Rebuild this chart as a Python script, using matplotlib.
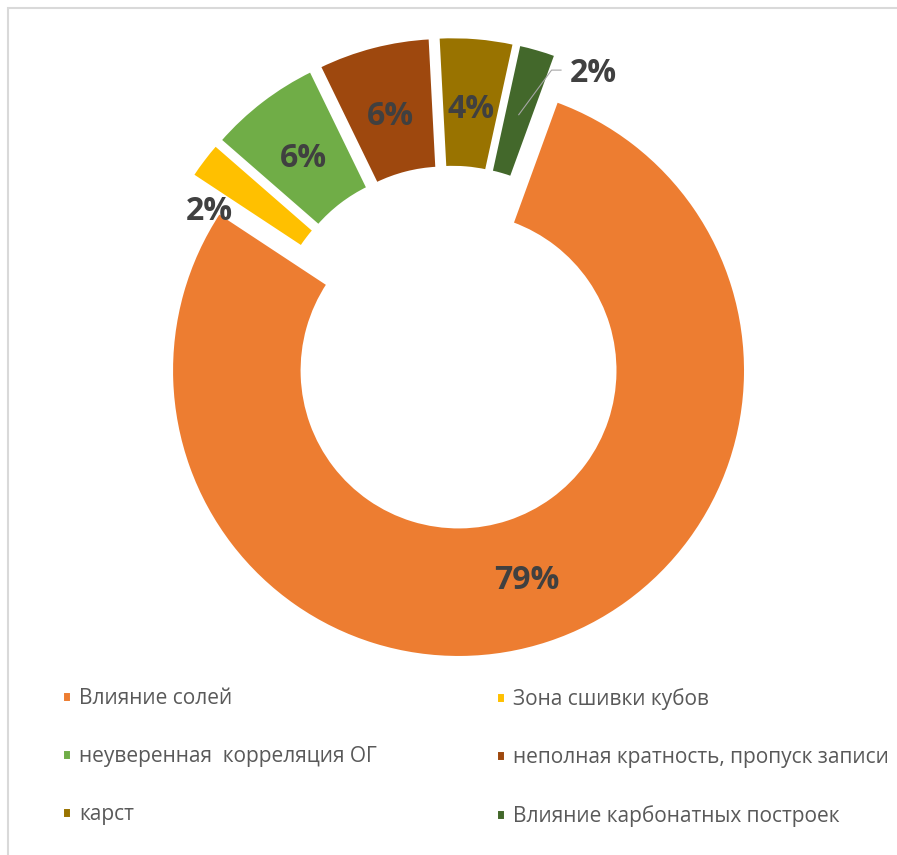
import matplotlib

matplotlib.use("Agg")
import matplotlib.pyplot as plt
import numpy as np
from matplotlib.patches import Rectangle

categories = [
    "Влияние солей",
    "Зона сшивки кубов",
    "неуверенная  корреляция ОГ",
    "неполная кратность, пропуск записи",
    "карст",
    "Влияние карбонатных построек",
]
counts = [37, 1, 3, 3, 2, 1]
colors = ["#ED7D31", "#FFC000", "#70AD47", "#9E480E", "#997300", "#43682B"]

W, H = 897, 855
R = 287.0              # outer radius in pixels
CX, CY = 451.0, 347.7  # pie centre in pixels (y from top)
EXPLODE = 24.0         # slice offset in pixels
LABEL_FONT = ["Open Sans", "DejaVu Sans"]
LEGEND_FONT = ["Open Sans", "DejaVu Sans"]
TEXT_DARK = "#404040"


def polar(center, theta_deg, r):
    t = np.deg2rad(theta_deg)
    return center[0] + r * np.cos(t), center[1] + r * np.sin(t)


fig = plt.figure(figsize=(W / 100, H / 100), dpi=100)
ax = fig.add_axes([0, 0, 1, 1])

# y axis runs downwards, so increasing angle draws clockwise on screen
wedges, _, pcts = ax.pie(
    counts,
    colors=colors,
    startangle=-70,
    counterclock=True,
    radius=1.0,
    explode=[EXPLODE / R] * len(counts),
    autopct=lambda p: f"{p:.0f}%",
    pctdistance=0.76,
    wedgeprops=dict(width=0.455, edgecolor="white", linewidth=2.2),
    textprops=dict(fontsize=23, fontweight="bold", color=TEXT_DARK, family=LABEL_FONT),
)
ax.set_xlim(-CX / R, (W - CX) / R)
ax.set_ylim((H - CY) / R, -CY / R)
ax.set_aspect("equal")
ax.axis("off")

# nudge labels down a little so the digits sit visually centred
for t in pcts:
    x, y = t.get_position()
    t.set_position((x, y + 3 / R))

# thin slices get their labels outside the ring
w = wedges[1]
mid = 0.5 * (w.theta1 + w.theta2)
pcts[1].set_position(polar(w.center, mid - 8.6, 0.885))

w = wedges[5]
mid = 0.5 * (w.theta1 + w.theta2)
lx, ly = polar(w.center, mid + 12.4, 0.99)
pcts[5].set_position((lx - 24 / R, ly - 2 / R))
pcts[5].set_ha("left")
sx, sy = polar(w.center, mid, 0.76)
ax.plot([sx, lx - 42 / R, lx - 32 / R], [sy, ly - 5 / R, ly - 5 / R],
        color="#a6a6a6", lw=0.8, solid_capstyle="butt")

# legend in two columns
leg_kw = dict(
    loc="upper left",
    frameon=False,
    prop=dict(family=LEGEND_FONT, size=15),
    labelcolor="#595959",
    handlelength=0.45,
    handleheight=0.45,
    handletextpad=0.38,
    labelspacing=1.78,
    borderpad=0,
    borderaxespad=0,
)
left = ax.legend(wedges[0::2], categories[0::2],
                 bbox_to_anchor=(62 / W, 1 - 688 / H), bbox_transform=fig.transFigure, **leg_kw)
ax.add_artist(left)
ax.legend(wedges[1::2], categories[1::2],
          bbox_to_anchor=(496 / W, 1 - 688 / H), bbox_transform=fig.transFigure, **leg_kw)

# chart area border (left and top edges only fall inside the image)
fig.add_artist(Rectangle((8 / W, -0.05), 1.0, 1.05 - 8 / H, transform=fig.transFigure,
                         fill=False, edgecolor="#d9d9d9", lw=1.5))

fig.savefig("out.png", dpi=100)
